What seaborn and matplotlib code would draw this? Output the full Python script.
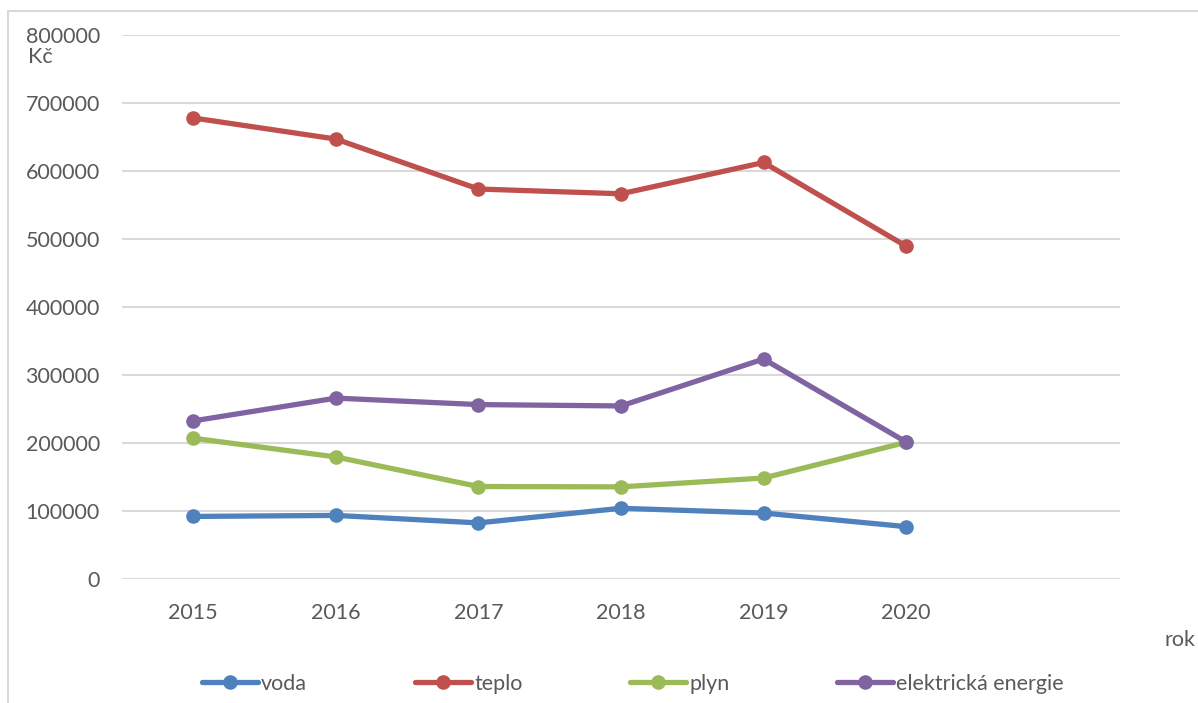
import matplotlib
matplotlib.use("Agg")
import matplotlib.pyplot as plt
import seaborn as sns
import pandas as pd
from matplotlib.lines import Line2D
from matplotlib.patches import Rectangle

years = ["2015", "2016", "2017", "2018", "2019", "2020"]
voda = [92000, 93500, 82500, 104000, 97000, 77000]
teplo = [678000, 647000, 573500, 566500, 612500, 489500]
plyn = [207000, 179500, 136000, 135500, 148500, 201000]
elektricka = [232500, 266000, 256500, 254500, 323500, 201500]
series_names = ["voda", "teplo", "plyn", "elektrická energie"]
colors = ["#4F81BD", "#C0504D", "#9BBB59", "#8064A2"]
y_ticks = [0, 100000, 200000, 300000, 400000, 500000, 600000, 700000, 800000]

rows = []
for name, vals in zip(series_names, [voda, teplo, plyn, elektricka]):
    for yr, v in zip(years, vals):
        rows.append({"rok": yr, "Kč": v, "serie": name})
df = pd.DataFrame(rows)

sns.set_theme(style="white")
plt.rcParams["font.family"] = ["Lato", "DejaVu Sans"]
txt = "#595959"
fs = 15.5

fig = plt.figure(figsize=(11.98, 7.03), dpi=100)
W, H = 1198, 703
ax = fig.add_axes([122 / W, (H - 579) / H, (1120 - 122) / W, (579 - 35) / H])

sns.lineplot(data=df, x="rok", y="Kč", hue="serie", palette=colors, marker="o",
             markersize=10.5, markeredgewidth=0, linewidth=3.8, sort=False,
             legend=False, ax=ax)

ax.set_xlim(-0.5, 6.5)
ax.set_ylim(0, 800000)
ax.set_yticks(y_ticks)
ax.set_yticklabels([str(t) for t in y_ticks])
ax.yaxis.grid(True, color="#D9D9D9", linewidth=1.5)
ax.set_axisbelow(True)
for s in ax.spines.values():
    s.set_visible(False)
ax.tick_params(axis="both", length=0, labelsize=fs, labelcolor=txt)
ax.tick_params(axis="y", pad=16)
ax.tick_params(axis="x", pad=17)
ax.set_xlabel("")
ax.set_ylabel("")

fig.text(28 / W, (H - 57) / H, "Kč", fontsize=fs, color=txt, va="center", ha="left")
fig.text(1165 / W, (H - 640) / H, "rok", fontsize=fs, color=txt, va="center", ha="left")

fig.patches.append(Rectangle((8 / W, -0.01), 1.1, (H - 11) / H + 0.01,
                             transform=fig.transFigure, fill=False,
                             edgecolor="#D9D9D9", linewidth=1.5))

handles = [Line2D([0], [0], color=c, linewidth=3.8, marker="o", markersize=10.5,
                  markeredgewidth=0) for c in colors]
fig.legend(handles, series_names, loc="center", bbox_to_anchor=(633 / W, (H - 684) / H),
           ncol=4, frameon=False, fontsize=fs, labelcolor=txt, handlelength=2.6,
           handletextpad=0.15, columnspacing=5.0)

fig.savefig("out.png", dpi=100)
